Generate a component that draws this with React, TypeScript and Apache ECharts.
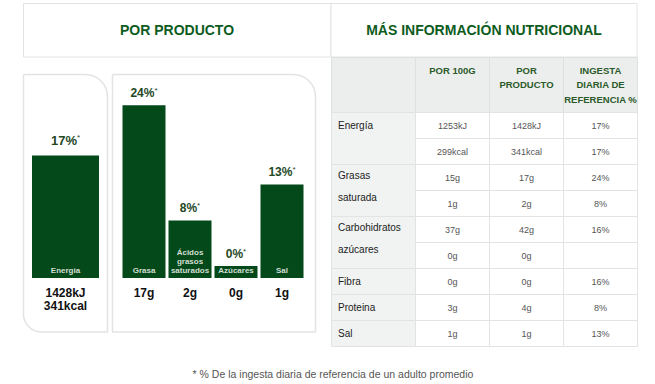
import React, { useEffect, useRef } from "react";
import * as echarts from "echarts";

// ---- chart data ----
const energyCategory = ["Energía"];
const energyPct = [17];
const energyAmount = ["1428kJ\n341kcal"];

const nutrientCategories = ["Grasa", "Ácidos\ngrasos\nsaturados", "Azúcares", "Sal"];
const nutrientPct = [24, 8, 0, 13];
const nutrientAmount = ["17g", "2g", "0g", "1g"];

// ---- table data ----
const tableHeaders = ["POR 100G", "POR\nPRODUCTO", "INGESTA\nDIARIA DE\nREFERENCIA %"];
const nutrientGroups = ["Energía", "Grasas\nsaturada", "Carbohidratos\nazúcares", "Fibra", "Proteina", "Sal"];
const groupSpans = [2, 2, 2, 1, 1, 1];
const per100 = ["1253kJ", "299kcal", "15g", "1g", "37g", "0g", "0g", "3g", "1g"];
const perProduct = ["1428kJ", "341kcal", "17g", "2g", "42g", "0g", "0g", "4g", "1g"];
const dailyRef = ["17%", "17%", "24%", "8%", "16%", "", "16%", "8%", "13%"];

const titleLeft = "POR PRODUCTO";
const titleRight = "MÁS INFORMACIÓN NUTRICIONAL";
const footnote = "* % De la ingesta diaria de referencia de un adulto promedio";

const FF = '"Liberation Sans", Arial, Helvetica, sans-serif';
const BAR = "#03491a";
const GREEN_TITLE = "#0d5c1e";
const LABEL_GREEN = "#24481f";
const BORDER = "#e2e4e3";

function txt(text: string, x: number, y: number, font: string, fill: string, align: string, valign: string, lineHeight?: number) {
  return {
    type: "text",
    z: 10,
    style: {
      text, x, y, font, fill,
      align, textAlign: align,
      verticalAlign: valign, textVerticalAlign: valign,
      lineHeight,
    },
  };
}

function rect(x: number, y: number, w: number, h: number, fill: string, stroke: string, r?: number[] | number, lw = 1) {
  return {
    type: "rect",
    z: 1,
    shape: { x, y, width: w, height: h, r: r || 0 },
    style: { fill, stroke, lineWidth: lw },
  };
}

function buildGraphic() {
  const els: any[] = [];
  // header boxes
  els.push(rect(23.5, 3.5, 307.5, 53.5, "#fff", BORDER));
  els.push(rect(331, 3.5, 306, 53.5, "#fff", BORDER));
  els.push(txt(titleLeft, 177, 30, `bold 14px ${FF}`, GREEN_TITLE, "center", "middle"));
  els.push(txt(titleRight, 484, 30, `bold 14px ${FF}`, GREEN_TITLE, "center", "middle"));

  // chart boxes
  els.push(rect(23.5, 74.5, 84, 257.5, "none", "#e3e3e3", [0, 22, 0, 18], 1.5));
  els.push(rect(112.5, 74.5, 203, 257.5, "none", "#e3e3e3", [0, 22, 0, 0], 1.5));

  // table
  const colX = [331.5, 415.5, 489.5, 563.5, 637.5];
  const headTop = 57.5;
  const bodyTop = 112.5;
  const rowH = 26;
  for (let c = 0; c < 4; c++) {
    els.push(rect(colX[c], headTop, colX[c + 1] - colX[c], bodyTop - headTop, "#eceeed", "#dde0df"));
  }
  tableHeaders.forEach((h, i) => {
    const cx = (colX[i + 1] + colX[i + 2]) / 2;
    els.push(txt(h, cx, 63, `bold 9.5px ${FF}`, "#2b5a2b", "center", "top", 14.5));
  });
  let r = 0;
  nutrientGroups.forEach((g, gi) => {
    const span = groupSpans[gi];
    const top = bodyTop + r * rowH;
    els.push(rect(colX[0], top, colX[1] - colX[0], span * rowH, "#f1f3f2", BORDER));
    els.push(txt(g, 338, top, `10px ${FF}`, "#222", "left", "top", g.includes("\n") ? 22 : 26));
    r += span;
  });
  const cols = [per100, perProduct, dailyRef];
  for (let i = 0; i < per100.length; i++) {
    const top = bodyTop + i * rowH;
    cols.forEach((arr, c) => {
      els.push(rect(colX[c + 1], top, colX[c + 2] - colX[c + 1], rowH, "#fff", BORDER));
      const cx = (colX[c + 1] + colX[c + 2]) / 2;
      if (arr[i]) els.push(txt(arr[i], cx, top + 13, `9px ${FF}`, "#555", "center", "middle"));
    });
  }

  els.push(txt(footnote, 333, 374, `10.5px ${FF}`, "#555", "center", "middle"));
  return els;
}

const topLabel = (size: number, dist: number) => ({
  show: true,
  position: "top",
  distance: dist,
  formatter: (p: any) => `{v|${p.value}%}{s|*}`,
  rich: {
    v: { fontSize: size, fontWeight: "bold", color: LABEL_GREEN, fontFamily: FF, lineHeight: size + 2 },
    s: { fontSize: 8, color: LABEL_GREEN, fontFamily: FF, padding: [0, 0, 5, 0] },
  },
});

const insideLabel = {
  show: true,
  position: "insideBottom",
  distance: 3,
  formatter: (p: any) => p.name,
  fontSize: 8,
  fontWeight: "bold",
  color: "#d2ded2",
  fontFamily: FF,
  lineHeight: 9,
};

export default function App() {
  const ref = useRef<HTMLDivElement>(null);
  useEffect(() => {
    if (!ref.current) return;
    const chart = echarts.init(ref.current, undefined, { renderer: "svg" });
    const axisLabel = (arr: string[]) => ({
      formatter: (_v: string, i: number) => arr[i],
      fontSize: 12,
      fontWeight: "bold",
      color: "#111",
      fontFamily: FF,
      lineHeight: 13,
      margin: 8,
      interval: 0,
    });
    chart.setOption({
      animation: false,
      backgroundColor: "#fff",
      grid: [
        { left: 32, width: 67, top: 98, height: 180 },
        { left: 121, width: 184, top: 98, height: 180 },
      ],
      xAxis: [
        { type: "category", gridIndex: 0, data: energyCategory, axisLine: { show: false }, axisTick: { show: false }, axisLabel: axisLabel(energyAmount) },
        { type: "category", gridIndex: 1, data: nutrientCategories, axisLine: { show: false }, axisTick: { show: false }, axisLabel: axisLabel(nutrientAmount) },
      ],
      yAxis: [
        { type: "value", gridIndex: 0, min: 0, max: 25, show: false, splitLine: { show: false } },
        { type: "value", gridIndex: 1, min: 0, max: 25, show: false, splitLine: { show: false } },
      ],
      series: [
        { type: "bar", xAxisIndex: 0, yAxisIndex: 0, data: energyPct, barWidth: 67, itemStyle: { color: BAR }, label: topLabel(13, 8) },
        { type: "bar", xAxisIndex: 0, yAxisIndex: 0, data: energyPct, barWidth: 67, barGap: "-100%", itemStyle: { color: "rgba(0,0,0,0)" }, label: insideLabel },
        { type: "bar", xAxisIndex: 1, yAxisIndex: 1, data: nutrientPct, barWidth: 43, barMinHeight: 12, itemStyle: { color: BAR }, label: topLabel(12, 5) },
        { type: "bar", xAxisIndex: 1, yAxisIndex: 1, data: nutrientPct, barWidth: 43, barMinHeight: 12, barGap: "-100%", itemStyle: { color: "rgba(0,0,0,0)" }, label: insideLabel },
      ],
      graphic: buildGraphic(),
    });
    return () => chart.dispose();
  }, []);
  return <div ref={ref} style={{ position: "absolute", left: 0, top: 0, width: 655, height: 384 }} />;
}
